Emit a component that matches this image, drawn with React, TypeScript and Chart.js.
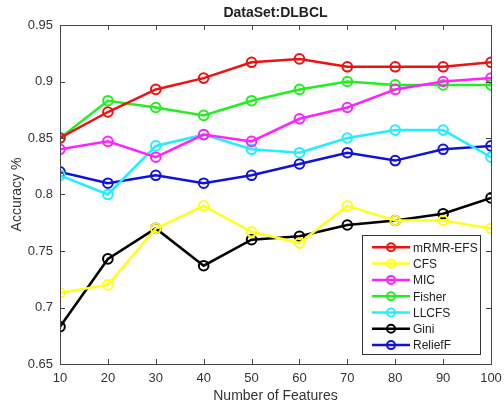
import React, { useEffect, useRef } from "react";
import { Chart, registerables } from "chart.js";

Chart.register(...registerables);

const features = [10, 20, 30, 40, 50, 60, 70, 80, 90, 100];
const seriesNames = ["mRMR-EFS", "CFS", "MIC", "Fisher", "LLCFS", "Gini", "ReliefF"];
const mrmrEfs = [0.85, 0.873, 0.893, 0.903, 0.917, 0.92, 0.913, 0.913, 0.913, 0.917];
const cfs = [0.713, 0.72, 0.77, 0.79, 0.767, 0.757, 0.79, 0.777, 0.777, 0.77];
const mic = [0.84, 0.847, 0.833, 0.853, 0.847, 0.867, 0.877, 0.893, 0.9, 0.903];
const fisher = [0.85, 0.883, 0.877, 0.87, 0.883, 0.893, 0.9, 0.897, 0.897, 0.897];
const llcfs = [0.817, 0.8, 0.843, 0.853, 0.84, 0.837, 0.85, 0.857, 0.857, 0.833];
const gini = [0.683, 0.743, 0.77, 0.737, 0.76, 0.763, 0.773, 0.777, 0.783, 0.797];
const reliefF = [0.82, 0.81, 0.817, 0.81, 0.817, 0.827, 0.837, 0.83, 0.84, 0.843];
const seriesValues = [mrmrEfs, cfs, mic, fisher, llcfs, gini, reliefF];
const seriesColors = ["#ee1111", "#ffff1a", "#ff22ff", "#22ee22", "#22eeff", "#000000", "#1111dd"];

const titleText = "DataSet:DLBCL";
const xTitle = "Number of Features";
const yTitle = "Accuracy %";
const FONT = "'Liberation Sans', Arial, sans-serif";

const framePlugin = {
  id: "frame",
  afterDatasetsDraw(chart: any) {
    const { ctx, chartArea } = chart;
    const { left, right, top, bottom } = chartArea;
    ctx.save();
    ctx.strokeStyle = "#444";
    ctx.lineWidth = 1;
    ctx.strokeRect(left + 0.5, top + 0.5, right - left, bottom - top);
    const xs = chart.scales.x;
    const ys = chart.scales.y;
    const tl = 5;
    ctx.beginPath();
    xs.ticks.forEach((t: any) => {
      const px = Math.round(xs.getPixelForValue(t.value)) + 0.5;
      ctx.moveTo(px, bottom);
      ctx.lineTo(px, bottom - tl);
      ctx.moveTo(px, top);
      ctx.lineTo(px, top + tl);
    });
    ys.ticks.forEach((t: any) => {
      const py = Math.round(ys.getPixelForValue(t.value)) + 0.5;
      ctx.moveTo(left, py);
      ctx.lineTo(left + tl, py);
      ctx.moveTo(right, py);
      ctx.lineTo(right - tl, py);
    });
    ctx.stroke();

    // title
    ctx.fillStyle = "#222";
    ctx.font = `bold 14px ${FONT}`;
    ctx.textAlign = "center";
    ctx.textBaseline = "middle";
    ctx.fillText(titleText, (left + right) / 2, 13);

    // legend
    const bx = 362, by = 235, bw = 118, bh = 119;
    ctx.fillStyle = "#fff";
    ctx.fillRect(bx, by, bw, bh);
    ctx.strokeStyle = "#333";
    ctx.lineWidth = 1;
    ctx.strokeRect(bx + 0.5, by + 0.5, bw, bh);
    ctx.font = `12px ${FONT}`;
    ctx.textAlign = "left";
    chart.data.datasets.forEach((ds: any, i: number) => {
      const cy = 247.3 + i * 16.3;
      ctx.strokeStyle = ds.borderColor;
      ctx.lineWidth = 2.5;
      ctx.beginPath();
      ctx.moveTo(372, cy);
      ctx.lineTo(410, cy);
      ctx.stroke();
      ctx.lineWidth = 2;
      ctx.beginPath();
      ctx.arc(391, cy, 4, 0, Math.PI * 2);
      ctx.stroke();
      ctx.fillStyle = "#222";
      ctx.fillText(ds.label, 413, cy + 1);
    });
    ctx.restore();
  },
};

export default function App() {
  const ref = useRef<HTMLCanvasElement>(null);
  useEffect(() => {
    document.body.style.margin = "0";
    const chart = new Chart(ref.current!, {
      type: "line",
      data: {
        datasets: seriesNames.map((name, i) => ({
          label: name,
          data: features.map((f, j) => ({ x: f, y: seriesValues[i][j] })),
          borderColor: seriesColors[i],
          backgroundColor: "transparent",
          pointBorderColor: seriesColors[i],
          pointBackgroundColor: "transparent",
          borderWidth: 2.5,
          pointRadius: 4.8,
          pointBorderWidth: 2,
          tension: 0,
        })),
      },
      plugins: [framePlugin],
      options: {
        responsive: false,
        animation: false,
        layout: { padding: { top: 25, right: 13, left: 0, bottom: 0 } },
        plugins: {
          legend: { display: false },
          title: { display: false },
          tooltip: { enabled: false },
        },
        scales: {
          x: {
            type: "linear",
            min: 10,
            max: 100,
            grid: { display: false, drawTicks: false },
            border: { display: false },
            ticks: {
              stepSize: 10,
              padding: 7,
              color: "#333",
              font: { family: FONT, size: 13 },
              maxRotation: 0,
            },
            title: {
              display: true,
              text: xTitle,
              color: "#333",
              font: { family: FONT, size: 14 },
              padding: { top: 0, bottom: 2 },
            },
            afterFit: (s: any) => {
              s.height = 43;
              s.paddingRight = 0;
              s.paddingLeft = 0;
            },
          },
          y: {
            type: "linear",
            min: 0.65,
            max: 0.95,
            grid: { display: false, drawTicks: false },
            border: { display: false },
            ticks: {
              stepSize: 0.05,
              padding: 7,
              color: "#333",
              font: { family: FONT, size: 13 },
              callback: (v: any) => String(Number(Number(v).toFixed(2))),
            },
            title: {
              display: true,
              text: yTitle,
              color: "#333",
              font: { family: FONT, size: 14 },
              padding: { top: 9, bottom: 0 },
            },
            afterFit: (s: any) => {
              s.width = 60;
              s.paddingTop = 0;
              s.paddingBottom = 0;
            },
          },
        },
      },
    });
    return () => chart.destroy();
  }, []);
  return (
    <div style={{ position: "fixed", left: 0, top: 0, width: 504, height: 407, background: "#fff" }}>
      <canvas ref={ref} width={504} height={407} />
    </div>
  );
}
